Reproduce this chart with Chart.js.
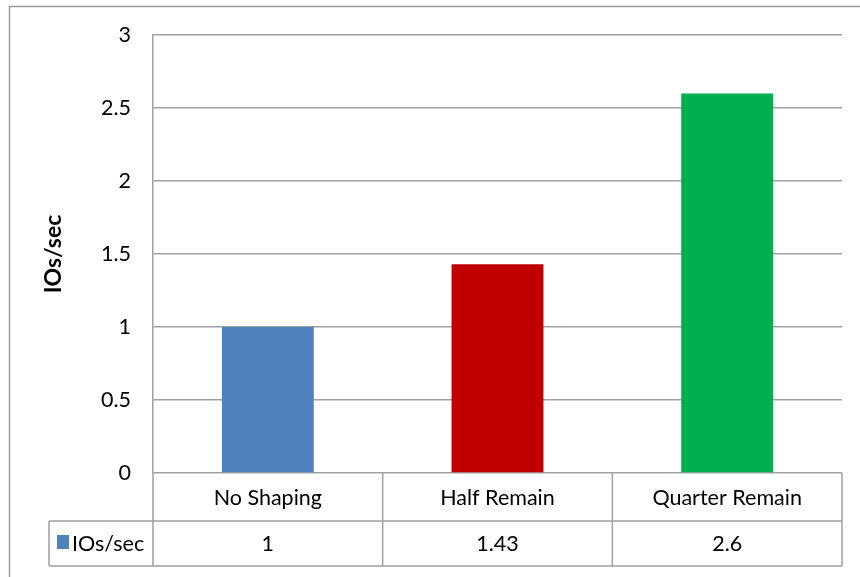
<!DOCTYPE html>
<html>
<head>
<meta charset="utf-8">
<script src="https://cdn.jsdelivr.net/npm/chart.js@4"></script>
<style>
  html, body { margin: 0; padding: 0; background: #fff; }
  #wrap { position: relative; width: 860px; height: 577px; }
  canvas { display: block; }
</style>
</head>
<body>
<div id="wrap"><canvas id="c" width="860" height="577"></canvas></div>
<script>
// Shaping modes and measured throughput
const categories = ['No Shaping', 'Half Remain', 'Quarter Remain'];
const seriesName = 'IOs/sec';
const iopsValues = [1, 1.43, 2.6];
const barColors = ['#4f81bd', '#c00000', '#00b050'];
const yTicks = [0, 0.5, 1, 1.5, 2, 2.5, 3];

const FONT = 'Lato, "Open Sans", sans-serif';
const FONT_SIZE = 21.5;
const LINE = '#a0a0a0';

// Frame around the chart plus a data table under the plot area
const tablePlugin = {
  id: 'dataTable',
  afterDraw(chart) {
    const ctx = chart.ctx;
    const x = chart.scales.x;
    const area = chart.chartArea;
    const rowH1 = 48, rowH2 = 45;
    const top = area.bottom;
    const mid = top + rowH1;
    const bot = mid + rowH2;
    const legendLeft = 49;

    ctx.save();
    // outer frame
    ctx.strokeStyle = '#9a9a9a';
    ctx.lineWidth = 1.5;
    ctx.beginPath();
    ctx.moveTo(9.5, 600);
    ctx.lineTo(9.5, 6.5);
    ctx.lineTo(870, 6.5);
    ctx.stroke();

    ctx.strokeStyle = LINE;
    ctx.lineWidth = 1.5;
    ctx.beginPath();
    // horizontal lines
    ctx.moveTo(legendLeft, mid); ctx.lineTo(area.right, mid);
    ctx.moveTo(legendLeft, bot); ctx.lineTo(area.right, bot);
    // vertical lines
    const n = categories.length;
    const step = (area.right - area.left) / n;
    for (let i = 0; i <= n; i++) {
      const vx = area.left + step * i;
      ctx.moveTo(vx, top); ctx.lineTo(vx, bot);
    }
    ctx.moveTo(legendLeft, mid); ctx.lineTo(legendLeft, bot);
    ctx.stroke();

    ctx.fillStyle = '#000';
    ctx.font = FONT_SIZE + 'px ' + FONT;
    ctx.textAlign = 'center';
    ctx.textBaseline = 'middle';
    categories.forEach((c, i) => {
      const cx = x.getPixelForValue(i);
      ctx.fillText(c, cx, top + rowH1 / 2 + 1);
      ctx.fillText(String(iopsValues[i]), cx, mid + rowH2 / 2 + 1);
    });

    // legend key in the table's row header
    ctx.fillStyle = barColors[0];
    ctx.fillRect(57, 535, 12, 14);
    ctx.fillStyle = '#000';
    ctx.textAlign = 'left';
    ctx.fillText(seriesName, 72, mid + rowH2 / 2 + 1);
    ctx.restore();
  }
};

new Chart(document.getElementById('c'), {
  type: 'bar',
  data: {
    labels: categories,
    datasets: [{
      label: seriesName,
      data: iopsValues,
      backgroundColor: barColors,
      borderWidth: 0,
      categoryPercentage: 0.4,
      barPercentage: 1.0
    }]
  },
  options: {
    responsive: false,
    animation: false,
    devicePixelRatio: 1,
    layout: { padding: { left: 24, right: 18, top: 35, bottom: 104 } },
    plugins: {
      legend: { display: false },
      tooltip: { enabled: false }
    },
    scales: {
      x: {
        display: false
      },
      y: {
        min: 0,
        max: 3,
        afterBuildTicks(scale) {
          scale.ticks = yTicks.map(v => ({ value: v }));
        },
        afterFit(scale) { scale.width = 129; },
        grid: {
          color: LINE,
          lineWidth: 1.5,
          drawTicks: false
        },
        border: { display: true, color: LINE, width: 1.5 },
        ticks: {
          color: '#000',
          padding: 22,
          font: { family: FONT, size: FONT_SIZE },
          callback: v => String(v)
        },
        title: {
          display: true,
          text: seriesName,
          color: '#000',
          font: { family: FONT, size: 23, weight: 'bold' },
          padding: { top: 16, bottom: 0 }
        }
      }
    }
  },
  plugins: [tablePlugin]
});
</script>
</body>
</html>
